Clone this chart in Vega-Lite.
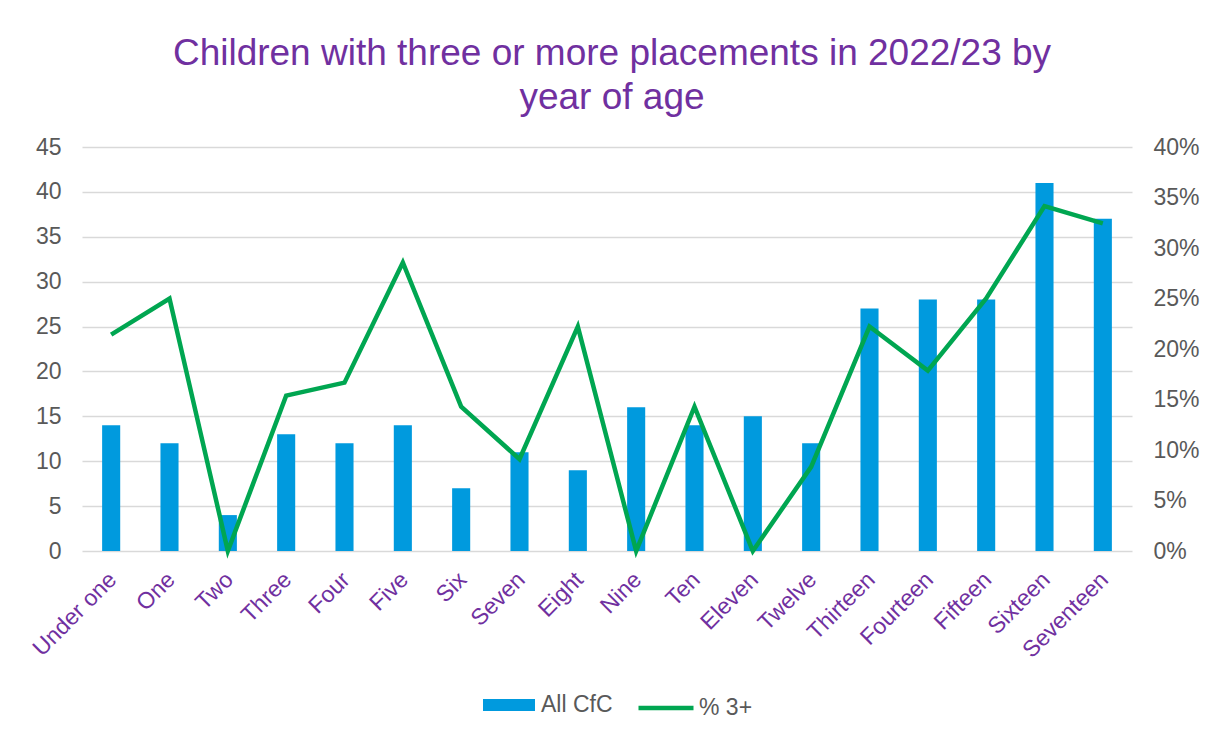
{
  "$schema": "https://vega.github.io/schema/vega-lite/v6.json",
  "width": 1050,
  "height": 404,
  "autosize": "none",
  "padding": {"left": 82, "top": 147, "right": 82, "bottom": 185},
  "background": "white",
  "config": {
    "view": {"stroke": null},
    "font": "Liberation Sans",
    "axis": {"labelFont": "Liberation Sans", "labelFontSize": 23, "labelColor": "#595959", "ticks": false, "domain": false, "titleFontSize": 0},
    "legend": {"labelFont": "Liberation Sans", "labelFontSize": 23, "labelColor": "#595959"}
  },
  "title": {
    "text": ["Children with three or more placements in 2022/23 by", "year of age"],
    "fontSize": 37,
    "fontWeight": "normal",
    "color": "#7030A0",
    "font": "Liberation Sans",
    "anchor": "middle",
    "lineHeight": 44,
    "dx": 5,
    "offset": 19
  },
  "data": {
    "values": [
      {"age": "Under one", "cfc": 14, "pct": 0.2143, "s1": "All CfC", "s2": "% 3+"},
      {"age": "One", "cfc": 12, "pct": 0.25, "s1": "All CfC", "s2": "% 3+"},
      {"age": "Two", "cfc": 4, "pct": 0, "s1": "All CfC", "s2": "% 3+"},
      {"age": "Three", "cfc": 13, "pct": 0.1538, "s1": "All CfC", "s2": "% 3+"},
      {"age": "Four", "cfc": 12, "pct": 0.1667, "s1": "All CfC", "s2": "% 3+"},
      {"age": "Five", "cfc": 14, "pct": 0.2857, "s1": "All CfC", "s2": "% 3+"},
      {"age": "Six", "cfc": 7, "pct": 0.1429, "s1": "All CfC", "s2": "% 3+"},
      {"age": "Seven", "cfc": 11, "pct": 0.0909, "s1": "All CfC", "s2": "% 3+"},
      {"age": "Eight", "cfc": 9, "pct": 0.2222, "s1": "All CfC", "s2": "% 3+"},
      {"age": "Nine", "cfc": 16, "pct": 0, "s1": "All CfC", "s2": "% 3+"},
      {"age": "Ten", "cfc": 14, "pct": 0.1429, "s1": "All CfC", "s2": "% 3+"},
      {"age": "Eleven", "cfc": 15, "pct": 0, "s1": "All CfC", "s2": "% 3+"},
      {"age": "Twelve", "cfc": 12, "pct": 0.0833, "s1": "All CfC", "s2": "% 3+"},
      {"age": "Thirteen", "cfc": 27, "pct": 0.2222, "s1": "All CfC", "s2": "% 3+"},
      {"age": "Fourteen", "cfc": 28, "pct": 0.1786, "s1": "All CfC", "s2": "% 3+"},
      {"age": "Fifteen", "cfc": 28, "pct": 0.25, "s1": "All CfC", "s2": "% 3+"},
      {"age": "Sixteen", "cfc": 41, "pct": 0.3415, "s1": "All CfC", "s2": "% 3+"},
      {"age": "Seventeen", "cfc": 37, "pct": 0.3243, "s1": "All CfC", "s2": "% 3+"}
    ]
  },
  "encoding": {
    "x": {
      "field": "age",
      "type": "nominal",
      "sort": null,
      "scale": {"paddingInner": 0.69, "paddingOuter": 0.345},
      "axis": {"title": null, "labelAngle": -45, "labelColor": "#7030A0", "labelPadding": 17, "labelOffset": -6, "grid": false}
    }
  },
  "layer": [
    {
      "mark": {"type": "bar", "color": "#009ADE"},
      "encoding": {
        "y": {
          "field": "cfc",
          "type": "quantitative",
          "scale": {"domain": [0, 45]},
          "axis": {"title": null, "values": [0, 5, 10, 15, 20, 25, 30, 35, 40, 45], "grid": true, "gridColor": "#D9D9D9", "gridWidth": 1.5, "labelPadding": 21}
        },
        "fill": {
          "field": "s1",
          "type": "nominal",
          "scale": {"range": ["#009ADE"]},
          "legend": {
            "title": null,
            "orient": "none",
            "legendX": 400,
            "legendY": 531,
            "symbolType": "M-1,-0.23H1V0.23H-1Z",
            "symbolSize": 2704,
            "symbolOpacity": 1,
            "labelOffset": 5
          }
        }
      }
    },
    {
      "mark": {"type": "line", "strokeWidth": 4.5, "color": "#00A651", "strokeJoin": "miter", "strokeCap": "butt"},
      "encoding": {
        "y": {
          "field": "pct",
          "type": "quantitative",
          "scale": {"domain": [0, 0.4]},
          "axis": {"title": null, "orient": "right", "format": ".0%", "values": [0, 0.05, 0.1, 0.15, 0.2, 0.25, 0.3, 0.35, 0.4], "grid": false, "labelPadding": 21}
        },
        "stroke": {
          "field": "s2",
          "type": "nominal",
          "scale": {"range": ["#00A651"]},
          "legend": {
            "title": null,
            "orient": "none",
            "legendX": 554,
            "legendY": 531,
            "symbolType": "stroke",
            "symbolSize": 3025,
            "symbolStrokeWidth": 4.5,
            "labelOffset": 3
          }
        }
      }
    }
  ],
  "resolve": {"scale": {"y": "independent", "fill": "independent", "stroke": "independent"}}
}
